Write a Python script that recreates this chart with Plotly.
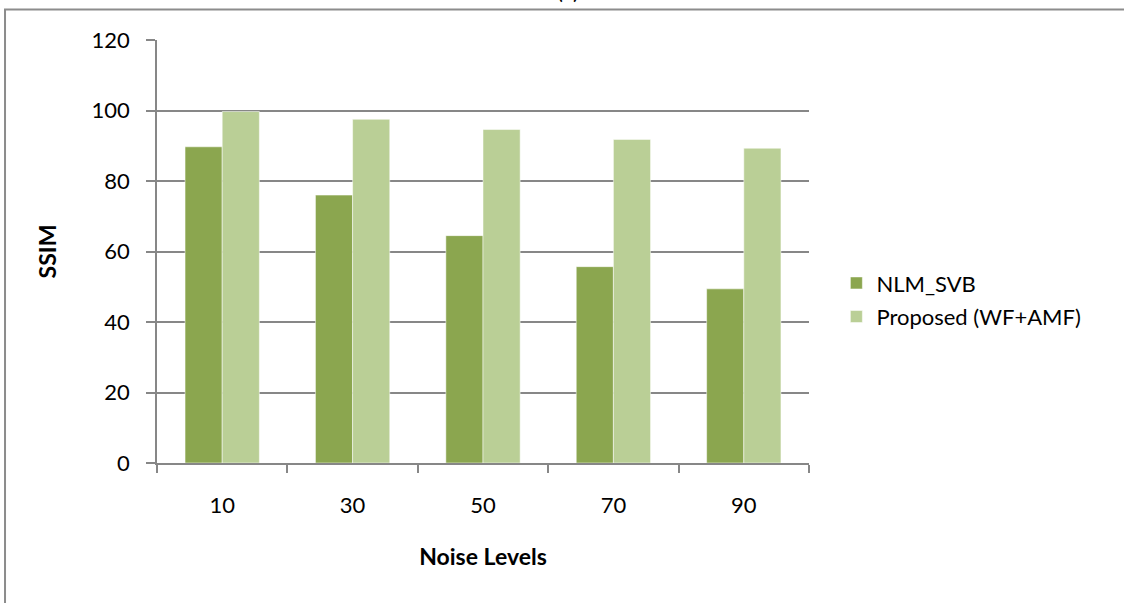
import plotly.graph_objects as go

# Noise levels (x categories) and SSIM scores per method
noise_levels = ["10", "30", "50", "70", "90"]
nlm_svb = [89.7, 76.0, 64.5, 55.7, 49.4]
proposed = [99.7, 97.5, 94.6, 91.8, 89.3]
y_ticks = [0, 20, 40, 60, 80, 100, 120]

FONT = "Lato"
GRID = "#878787"

fig = go.Figure()
fig.add_trace(go.Bar(
    x=noise_levels, y=nlm_svb, name="NLM_SVB", legendgroup="nlm",
    marker=dict(color="#8BA64F", line=dict(color="rgba(255,255,255,0.5)", width=1)),
))
fig.add_trace(go.Bar(
    x=noise_levels, y=proposed, name="Proposed (WF+AMF)", legendgroup="prop",
    marker=dict(color="#BACF96", line=dict(color="rgba(255,255,255,0.5)", width=1)),
))

fig.update_layout(
    width=1124, height=603, autosize=False,
    margin=dict(l=157, r=315, t=40, b=140),
    paper_bgcolor="white", plot_bgcolor="white",
    barmode="group", bargap=0.43, bargroupgap=0,
    font=dict(family=FONT, color="black", size=22),
    showlegend=True,
    legend=dict(
        x=1.042, xanchor="left", y=0.385, yanchor="middle",
        font=dict(family=FONT, size=22),
        tracegroupgap=2,
        bgcolor="rgba(0,0,0,0)",
    ),
    xaxis=dict(
        type="category",
        showline=True, linecolor=GRID, linewidth=1.5,
        ticks="outside", ticklen=8, tickcolor=GRID, tickwidth=1.5,
        tickson="boundaries",
        showgrid=False,
        tickfont=dict(family=FONT, size=22),
        ticklabelstandoff=22,
        title=dict(text="<b>Noise Levels</b>", font=dict(family=FONT, size=23), standoff=32),
    ),
    yaxis=dict(
        range=[0, 120], tickvals=y_ticks,
        showline=True, linecolor=GRID, linewidth=1.5,
        ticks="outside", ticklen=9, tickcolor=GRID, tickwidth=1.5,
        showgrid=True, gridcolor=GRID, gridwidth=1.5,
        zeroline=False,
        tickfont=dict(family=FONT, size=22),
        ticklabelstandoff=12,
        title=dict(text="<b>SSIM</b>", font=dict(family=FONT, size=23), standoff=29),
    ),
    annotations=[dict(
        text="(a)", xref="paper", yref="paper", x=0.630, y=1.080,
        xanchor="center", yanchor="bottom", showarrow=False,
        font=dict(family=FONT, size=22),
    )],
    shapes=[dict(
        type="rect", xref="paper", yref="paper",
        x0=-0.2331, x1=1.6, y0=-0.5, y1=1.0721,
        line=dict(color="#8C8C8C", width=2), fillcolor="rgba(0,0,0,0)",
        layer="below",
    )],
)

fig.write_html("out.html")
